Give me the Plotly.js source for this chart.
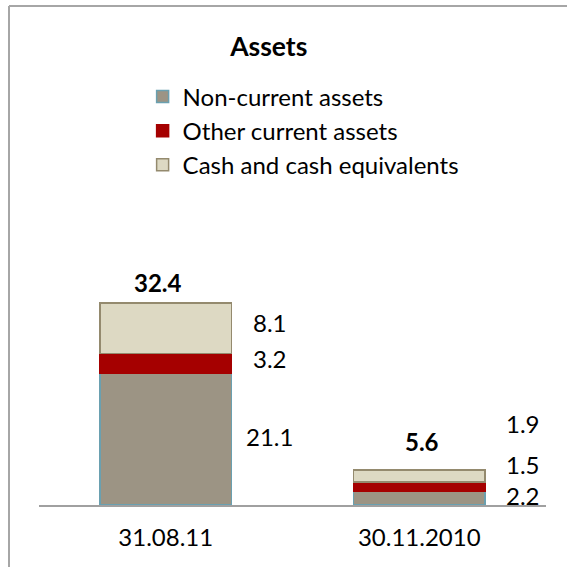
<!DOCTYPE html>
<html><head><meta charset="utf-8">
<script src="https://cdn.plot.ly/plotly-3.0.1.min.js"></script>
<style>html,body{margin:0;padding:0;background:#fff}#c{width:567px;height:567px}</style>
</head><body><div id="c"></div>
<script>
const categories = ["31.08.11", "30.11.2010"];
const nonCurrent = [21.1, 2.2];
const otherCurrent = [3.2, 1.5];
const cash = [8.1, 1.9];
const seriesNames = ["Non-current assets", "Other current assets", "Cash and cash equivalents"];
const chartTitle = "Assets";

const series = [nonCurrent, otherCurrent, cash];
const fills = ["#9C9484", "#A50000", "#DDD9C3"];
const lines = ["#6AA0B0", "#A50000", "#948A6E"];
const FONT = "Lato, 'Liberation Sans', sans-serif";
const FS = 24;

const traces = series.map((s, i) => ({
  type: "bar", x: categories, y: s, name: seriesNames[i],
  marker: {color: fills[i], line: {color: lines[i], width: 1.5}},
  width: 0.517, hoverinfo: "skip"
}));

// per-label vertical nudges (px), [series][category]
const labelShift = [[3, 3], [5, 22], [6, 53]];
const totalShift = [[-8, 3.5], [3, 12.5]];
const annotations = [];
categories.forEach((c, j) => {
  let cum = 0;
  series.forEach((s, i) => {
    const mid = cum + s[j] / 2;
    cum += s[j];
    annotations.push({x: c, y: mid, xref: "x", yref: "y", text: s[j].toFixed(1),
      showarrow: false, xshift: 104, yshift: labelShift[i][j],
      font: {family: FONT, size: FS, color: "#000"}});
  });
  annotations.push({x: c, y: cum, xref: "x", yref: "y", text: "<b>" + cum.toFixed(1) + "</b>",
    showarrow: false, yanchor: "bottom", xshift: totalShift[j][0], yshift: totalShift[j][1],
    font: {family: FONT, size: FS, color: "#000"}});
});

const layout = {
  width: 567, height: 567,
  margin: {l: 39, r: 21, t: 6, b: 62},
  paper_bgcolor: "#fff", plot_bgcolor: "#fff",
  barmode: "stack", bargap: 0,
  title: {text: "<b>" + chartTitle + "</b>", x: 0.474, xref: "container", y: 1 - 47/567, yref: "container",
    xanchor: "center", yanchor: "middle", font: {family: FONT, size: 26.5, color: "#000"}},
  showlegend: true,
  legend: {x: 0.232 - 14/507, xanchor: "left", y: 0.863, yanchor: "top", traceorder: "normal",
    font: {family: FONT, size: FS, color: "#000"}, bgcolor: "rgba(0,0,0,0)",
    itemwidth: 30, tracegroupgap: 0},
  xaxis: {type: "category", range: [-0.5, 1.5], showline: true, linecolor: "#A0A0A0", linewidth: 2,
    ticks: "", showgrid: false, zeroline: false, fixedrange: true, ticklabelstandoff: 10,
    tickfont: {family: FONT, size: FS, color: "#000"}},
  yaxis: {range: [0, 80], showticklabels: false, showgrid: false, zeroline: false, showline: false, ticks: ""},
  shapes: [
    {type: "line", xref: "paper", yref: "paper", x0: -30/507, x1: 1.1, y0: 1, y1: 1, line: {color: "#A6A6A6", width: 2}},
    {type: "line", xref: "paper", yref: "paper", x0: -30/507, x1: -30/507, y0: 1, y1: -0.2, line: {color: "#A6A6A6", width: 2}}
  ],
  annotations: annotations
};
Plotly.newPlot("c", traces, layout, {displayModeBar: false, staticPlot: true});
</script></body></html>
